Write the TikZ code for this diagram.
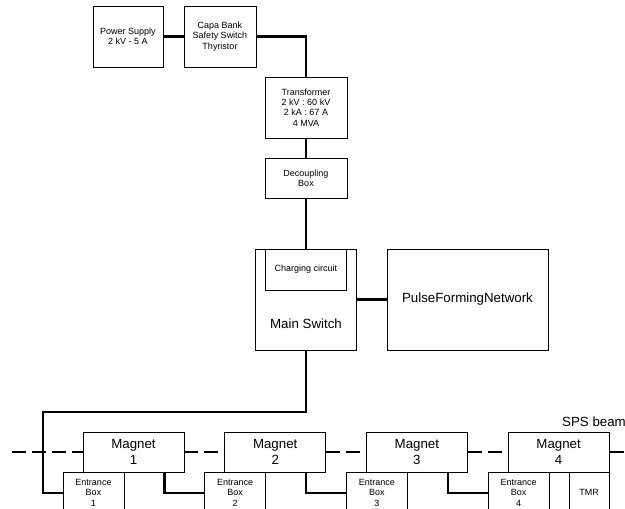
\documentclass[tikz,border=0pt]{standalone}
\usepackage{fontspec}
\setmainfont{Liberation Sans}
\usepackage{tikz}

\tikzset{
    box/.style={draw, line width=0.8pt, inner sep=0pt, align=center, font=\fontsize{9}{10.2}\selectfont},
    bigbox/.style={box, font=\fontsize{13.3}{16.5}\selectfont},
    bigtext/.style={inner sep=0pt, font=\fontsize{13.3}{16.5}\selectfont},
    wire/.style={line width=2.2pt},
    beam/.style={line width=1.8pt, dash pattern=on 14pt off 6pt}
}

\begin{document}
\begin{tikzpicture}[x=1pt, y=-1pt]
    \useasboundingbox (0, 0) rectangle (625, 509);
    \clip (0, 0) rectangle (625, 509);

    \node [box, minimum width=70pt, minimum height=61pt] (ps) at (128, 36.5) {Power Supply\\2 kV - 5 A};
    \node [box, minimum width=72pt, minimum height=61pt] (capa) at (220, 36.5) {Capa Bank\\Safety Switch\\Thyristor};
    \node [box, minimum width=82pt, minimum height=61pt] (trafo) at (306, 107.5) {Transformer\\2 kV : 60 kV\\2 kA : 67 A\\4 MVA};
    \node [box, minimum width=82pt, minimum height=40pt] (decoupling) at (306, 178) {Decoupling\\Box};
    \node [box, minimum width=101pt, minimum height=101pt] (ms) at (306, 299.5) {};
    \node [box, minimum width=81pt, minimum height=41pt] (charging) at (306, 269.5) {Charging circuit};
    \node [bigtext] (mslabel) at (306, 324) {Main Switch};
    \node [bigbox, minimum width=161pt, minimum height=101pt] (pfn) at (467.5, 299.5) {PulseFormingNetwork};

    \foreach \i [evaluate=\i as \x using 133.5+141.7*(\i-1)] in {1,...,4} {
        \node [bigbox, minimum width=101pt, minimum height=40pt] (m\i) at (\x, 452) {Magnet\\\i};
        \node [box, minimum width=61pt, minimum height=40pt, anchor=north west] (e\i) at ([xshift=-20pt]m\i.south west) {Entrance\\Box\\\i};
    }
    \node [box, minimum width=40pt, minimum height=40pt, anchor=north east] (tmr) at (m4.south east) {TMR};
    \node [bigtext, anchor=west] (sps) at (562, 422) {SPS beam};

    \coordinate (beamstart) at (12, 452);
    \coordinate (beamend) at (625, 452);
    \draw [beam] (beamstart) -- (m1.west);
    \foreach \i/\j in {1/2, 2/3, 3/4} \draw [beam] (m\i.east) -- (m\j.west);
    \draw [beam] (m4.east) -- (beamend);

    \draw [wire] (ps) -- (capa);
    \draw [wire] (capa) -| (trafo);
    \draw [wire] (trafo) -- (decoupling);
    \draw [wire] (decoupling) -- (ms);
    \draw [wire] (ms) -- (pfn);
    \coordinate (bend) at (43, 412);
    \draw [wire] (ms.south) |- (bend) |- (e1.west);
    \foreach \i/\j in {1/2, 2/3, 3/4} \draw [wire] ([xshift=-20pt]m\i.south east) |- (e\j.west);
\end{tikzpicture}
\end{document}
